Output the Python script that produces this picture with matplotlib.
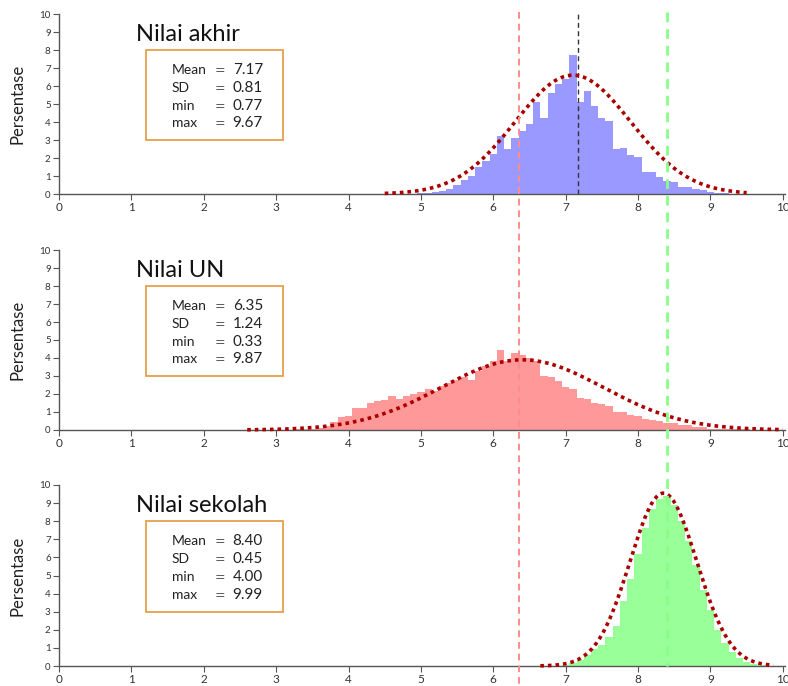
import numpy as np
import matplotlib
matplotlib.use("Agg")
import matplotlib.pyplot as plt
import matplotlib.transforms as mtransforms
from matplotlib.patches import Rectangle

plt.rcParams['font.family'] = ['Lato', 'DejaVu Sans']

# data, percent per 0.1 bin
titles = ["Nilai akhir", "Nilai UN", "Nilai sekolah"]
stat_names = ["Mean", "SD", "min", "max"]
stats_akhir = ["7.17", "0.81", "0.77", "9.67"]
stats_un = ["6.35", "1.24", "0.33", "9.87"]
stats_sekolah = ["8.40", "0.45", "4.00", "9.99"]

start_akhir = 4.9
hist_akhir = [0.02, 0.05, 0.08, 0.1, 0.17, 0.3, 0.5, 0.8, 1.0, 1.5, 1.85, 2.2,
              3.2, 2.5, 3.1, 3.5, 3.9, 5.1, 4.2, 5.6, 6.1, 6.4, 7.7, 5.1, 5.7,
              4.9, 4.2, 4.05, 2.5, 2.55, 2.15, 2.05, 1.2, 1.2, 0.95, 0.75, 0.65,
              0.4, 0.37, 0.3, 0.2, 0.1, 0.06, 0.03, 0.02]
start_un = 3.3
hist_un = [0.03, 0.05, 0.07, 0.1, 0.2, 0.45, 0.7, 0.78, 1.2, 1.2, 1.48, 1.6,
           1.67, 1.9, 1.7, 1.9, 2.0, 2.1, 2.3, 2.15, 2.45, 2.6, 2.8, 2.95, 2.8,
           3.25, 3.55, 3.85, 4.45, 3.85, 4.3, 4.17, 4.0, 3.85, 3.0, 2.95, 2.7,
           2.4, 2.3, 1.8, 1.7, 1.52, 1.45, 1.35, 1.0, 1.0, 0.85, 0.8, 0.6, 0.55,
           0.5, 0.37, 0.37, 0.25, 0.25, 0.15, 0.15, 0.08, 0.08, 0.05, 0.04,
           0.03, 0.03, 0.02, 0.02, 0.02]
start_sekolah = 7.0
hist_sekolah = [0.05, 0.15, 0.35, 0.6, 0.95, 1.15, 1.6, 2.2, 3.6, 4.8, 6.2,
                7.6, 8.7, 9.2, 9.4, 8.9, 8.0, 6.9, 5.6, 4.2, 3.1, 2.0, 1.26, 0.8,
                0.43, 0.24, 0.1, 0.05]

# fitted normal curves (centre, sd, peak, x range)
curve_mu = [7.10, 6.40, 8.35]
curve_sd = [0.80, 1.12, 0.46]
curve_peak = [6.6, 3.9, 9.55]
curve_lo = [4.5, 2.6, 6.65]
curve_hi = [9.5, 10.0, 9.87]

mean_akhir = 7.17
mean_un = 6.35
mean_sekolah = 8.40

hist_colors = ["#9999ff", "#ff9999", "#99ff99"]
starts = [start_akhir, start_un, start_sekolah]
hists = [hist_akhir, hist_un, hist_sekolah]
stats = [stats_akhir, stats_un, stats_sekolah]

fig = plt.figure(figsize=(7.88, 6.86), dpi=100)
W, H = 788.0, 686.0
# pixel rows of y=10 and y=0 in each panel
rows = [(14, 194), (250, 430), (485, 666)]
axes = []
for i in range(3):
    top, bot = rows[i]
    ax = fig.add_axes([59 / W, 1 - bot / H, 726 / W, (bot - top) / H])
    axes.append(ax)
    centers = starts[i] + 0.1 * np.arange(len(hists[i]))
    ax.bar(centers, hists[i], width=0.1, color=hist_colors[i], linewidth=0, zorder=1)
    x = np.linspace(curve_lo[i], curve_hi[i], 300)
    y = curve_peak[i] * np.exp(-0.5 * ((x - curve_mu[i]) / curve_sd[i]) ** 2)
    ax.plot(x, y, color="#aa0000", lw=2.6, linestyle=(0, (1, 1.1)),
            dash_capstyle="butt", zorder=4, clip_on=False)
    ax.set_xlim(0, 10.03)
    ax.set_ylim(0, 10)
    ax.set_xticks(range(11))
    ax.set_yticks(range(11))
    ax.spines['top'].set_visible(False)
    ax.spines['right'].set_visible(False)
    for s in ['left', 'bottom']:
        ax.spines[s].set_color("#555555")
        ax.spines[s].set_linewidth(1.0)
    ax.tick_params(axis='x', labelsize=8.5, colors="#555555", labelcolor="#333333", length=4, pad=2)
    ax.tick_params(axis='y', labelsize=7, colors="#555555", labelcolor="#333333", length=4, pad=2)
    ax.set_ylabel("Persentase", fontsize=12, color="#222222")
    ax.yaxis.set_label_coords(-0.046, 0.5)
    ax.text(1.07, 8.5, titles[i], fontsize=17, color="#111111")
    ax.add_patch(Rectangle((1.2, 3.0), 1.9, 5.0, fill=False, edgecolor="#e6a04a", lw=1.3, zorder=5))
    for j in range(4):
        yy = 6.67 - 0.99 * j
        ax.text(1.56, yy, stat_names[j], fontsize=10, color="#222222")
        ax.text(2.15, yy, "=", fontsize=9, color="#555555", family="DejaVu Sans")
        ax.text(2.40, yy, stats[i][j], fontsize=11, color="#222222")

# mean of nilai akhir, top panel only
axes[0].axvline(mean_akhir, ymin=0, ymax=1, color="#333333", lw=1.0,
                linestyle=(0, (3.5, 2.5)), zorder=3)

# red and green dashed lines across all panels
tr = mtransforms.blended_transform_factory(axes[2].transData, fig.transFigure)
fig.lines.append(plt.Line2D([mean_un, mean_un], [1 - 12 / H, 0], transform=tr,
                            color="#ff8c8c", lw=1.4, linestyle=(0, (3.5, 2.5))))
fig.lines.append(plt.Line2D([mean_sekolah, mean_sekolah], [1 - 12 / H, 1 - 666 / H], transform=tr,
                            color="#88ff88", lw=2.0, linestyle=(0, (3.5, 2.5))))

plt.savefig("out.png", dpi=100)
